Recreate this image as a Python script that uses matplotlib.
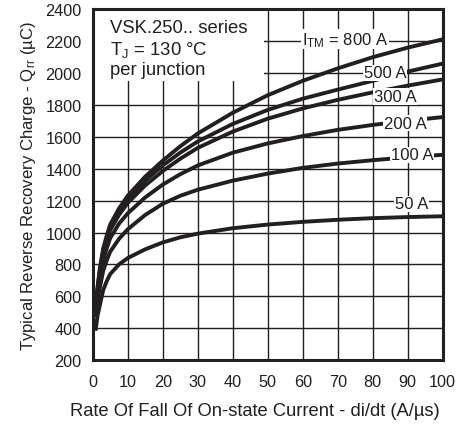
import matplotlib
matplotlib.use('Agg')
import matplotlib.pyplot as plt
from matplotlib.patches import Rectangle

plt.rcParams['font.family'] = ['Liberation Sans', 'DejaVu Sans']
ink = '#231f20'

# di/dt (A/us) sample points
didt = [0.8, 1.4, 2, 3, 4, 5, 7.5, 10, 15, 20, 25, 30, 40, 50, 60, 70, 80, 90, 100]

# Qrr (uC) per forward current
q_800 = [500, 660, 770, 900, 980, 1050, 1150, 1230, 1350, 1450, 1540, 1620, 1750, 1860, 1950, 2028, 2098, 2158, 2210]
q_500 = [500, 650, 755, 885, 965, 1035, 1135, 1210, 1325, 1420, 1500, 1570, 1680, 1768, 1838, 1895, 1950, 2008, 2058]
q_300 = [495, 640, 740, 870, 950, 1015, 1110, 1185, 1295, 1385, 1462, 1530, 1632, 1713, 1777, 1831, 1878, 1920, 1959]
q_200 = [485, 620, 705, 825, 900, 965, 1055, 1120, 1220, 1300, 1365, 1420, 1500, 1558, 1604, 1643, 1674, 1700, 1723]
q_100 = [470, 580, 650, 760, 825, 880, 960, 1020, 1110, 1180, 1230, 1268, 1325, 1369, 1405, 1432, 1453, 1471, 1487]
q_50 = [385, 480, 540, 640, 695, 740, 800, 840, 895, 938, 970, 993, 1027, 1050, 1067, 1080, 1090, 1097, 1102]

curves = [q_800, q_500, q_300, q_200, q_100, q_50]
labels = ['$\\mathregular{I_{TM}}$ = 800 A', '500 A', '300 A', '200 A', '100 A', '50 A']
# label anchor (x, y) in data units
label_pos = [(72, 2210), (83.5, 2000), (86.4, 1852), (89.3, 1685), (91.3, 1487), (91, 1180)]

fig = plt.figure(figsize=(4.6, 4.27), dpi=100)
ax = fig.add_axes([0.2015, 0.1539, 0.7609, 0.8227])

for q in curves:
    ax.plot(didt, q, color=ink, lw=2.8, solid_capstyle='butt', solid_joinstyle='round', zorder=3)

for text, (lx, ly) in zip(labels, label_pos):
    ax.text(lx, ly, text, ha='center', va='center', fontsize=12, color=ink, zorder=5,
            bbox=dict(facecolor='white', edgecolor='none', pad=0.5))

# white legend area in upper left
ax.add_patch(Rectangle((0, 1950), 49, 450, facecolor='white', edgecolor='none', zorder=2))
ax.text(4.9, 2340, 'VSK.250.. series\n$\\mathregular{T_J}$ = 130 °C\nper junction',
        ha='left', va='top', fontsize=13.3, color=ink, linespacing=1.2, zorder=5)

ax.set_xlim(0, 100)
ax.set_ylim(200, 2400)
ax.set_xticks(range(0, 101, 10))
ax.set_yticks(range(200, 2401, 200))
ax.grid(True, color=ink, lw=1.0, zorder=1)
ax.set_axisbelow(True)
ax.tick_params(length=0, pad=8, labelsize=11.7, colors=ink)
ax.tick_params(axis='x', pad=10)
for s in ax.spines.values():
    s.set_linewidth(2.2)
    s.set_color(ink)

ax.set_xlabel('Rate Of Fall Of On-state Current - di/dt (A/µs)', fontsize=13.2, color=ink)
ax.xaxis.set_label_coords(0.4637, -0.118)
ax.set_ylabel('Typical Reverse Recovery Charge - $\\mathregular{Q_{rr}}$ (µC)', fontsize=12.1,
              color=ink, labelpad=5)

fig.savefig('out.png', dpi=100)
